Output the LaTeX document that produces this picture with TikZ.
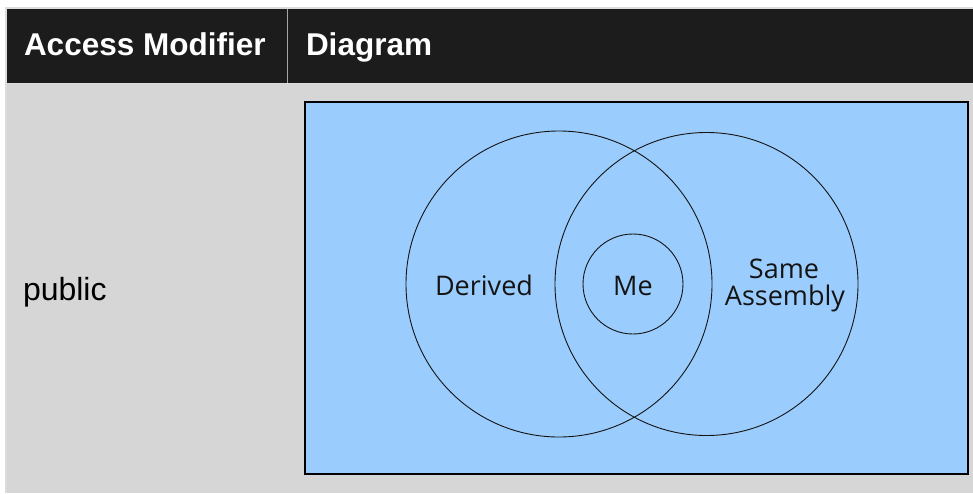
\documentclass[tikz,border=0pt]{standalone}
\usepackage{fontspec}
\setmainfont{Liberation Sans}
\newfontfamily\venn{Open Sans}
\usepackage{xcolor}
\definecolor{headgray}{HTML}{1C1C1C}
\definecolor{bodygray}{HTML}{D6D6D6}
\definecolor{rulegray}{HTML}{DCDCDC}
\definecolor{skyblue}{HTML}{9ACDFE}
\definecolor{inkgray}{HTML}{141414}

\begin{document}
\begin{tikzpicture}[x=1pt, y=-1pt, every node/.style={inner sep=0pt, outer sep=0pt}]
\useasboundingbox (0,0) rectangle (973,493);
%table
\fill[rulegray] (5,7) rectangle (973,493);
\fill[headgray] (7,9) rectangle (973,83);
\fill[bodygray] (7,84) rectangle (973,493);
\draw[gray!70, line width=1pt] (287,9) -- (287,83);
\node[anchor=base west, text=white, font=\bfseries\fontsize{31.5}{37}\selectfont] (hmod) at (24,55) {Access Modifier};
\node[anchor=base west, text=white, font=\bfseries\fontsize{31.5}{37}\selectfont] (hdia) at (306,55) {Diagram};
\node[anchor=base west, text=black, font=\fontsize{32}{37}\selectfont] (pub) at (23,300) {public};
%venn box
\draw[fill=skyblue, draw=black, line width=1.5pt] (305,102) rectangle (968,474);
\draw[inkgray, line width=0.9pt] (559,284) circle[radius=153pt];
\draw[inkgray, line width=0.9pt] (706.5,284) circle[radius=151.5pt];
\draw[inkgray, line width=0.9pt] (633,284) circle[radius=50pt];
\node[anchor=base, text=inkgray, font=\venn\fontsize{27}{27}\selectfont] (der) at (484,295) {Derived};
\node[anchor=base, text=inkgray, font=\venn\fontsize{27}{27}\selectfont] (me) at (633,295) {Me};
\node[anchor=base, text=inkgray, font=\venn\fontsize{27}{27}\selectfont] (same) at (784,278) {Same};
\node[anchor=base, text=inkgray, font=\venn\fontsize{27}{27}\selectfont] (asm) at (785,305) {Assembly};
\end{tikzpicture}
\end{document}
